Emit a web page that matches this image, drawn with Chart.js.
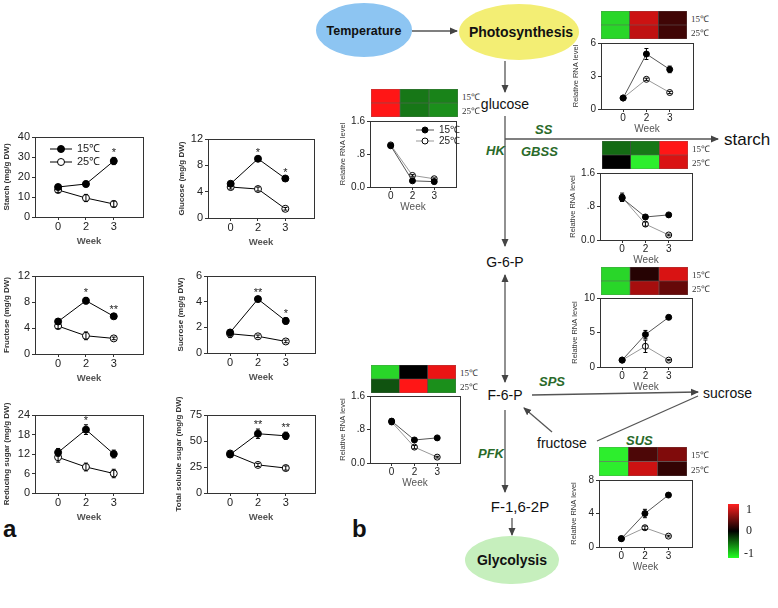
<!DOCTYPE html>
<html>
<head>
<meta charset="utf-8">
<title>Sugar content and gene expression</title>
<script src="https://cdn.jsdelivr.net/npm/chart.js@4.4.1/dist/chart.umd.min.js"></script>
<style>
  body { margin: 0; background: #fff; }
  #page { position: relative; width: 778px; height: 608px; overflow: hidden; font-family: "Liberation Sans", Arial, sans-serif; }
  #page canvas { position: absolute; }
  .hl { position: absolute; font-family: "Liberation Serif", serif; font-size: 9px; color: #333; white-space: nowrap; }
  .cb { position: absolute; font-family: "Liberation Serif", serif; font-size: 12px; color: #222; }
  .panel { position: absolute; font-weight: bold; font-size: 24px; color: #111; }
</style>
</head>
<body>
<div id="page">
  <svg width="778" height="608" style="position:absolute;left:0;top:0" font-family="Liberation Sans, Arial, sans-serif">
    <defs>
      <marker id="ah" markerWidth="8" markerHeight="8" refX="7" refY="4" orient="auto-start-reverse" markerUnits="userSpaceOnUse">
        <path d="M0,0.5 L8,4 L0,7.5 z" fill="#444"/>
      </marker>
    </defs>
    <ellipse cx="364" cy="30" rx="48" ry="27" fill="#8dc5f2"/>
    <text x="364" y="35" text-anchor="middle" font-weight="bold" font-size="12.5" fill="#111">Temperature</text>
    <ellipse cx="519" cy="32" rx="60" ry="28" fill="#f3ee74"/>
    <text x="521" y="37" text-anchor="middle" font-weight="bold" font-size="14" fill="#111">Photosynthesis</text>
    <g stroke="#555" stroke-width="1.3" fill="none">
      <line x1="412" y1="31" x2="457" y2="31" marker-end="url(#ah)"/>
      <line x1="505" y1="61" x2="505" y2="92" marker-end="url(#ah)"/>
      <line x1="505" y1="116" x2="505" y2="246" marker-end="url(#ah)"/>
      <line x1="505" y1="139" x2="718" y2="139" marker-end="url(#ah)"/>
      <line x1="505" y1="275" x2="505" y2="382" marker-start="url(#ah)" marker-end="url(#ah)"/>
      <line x1="532" y1="395" x2="698" y2="392" marker-end="url(#ah)"/>
      <line x1="597" y1="441" x2="698" y2="396"/>
      <line x1="552" y1="432" x2="524" y2="408" marker-end="url(#ah)"/>
      <line x1="505" y1="410" x2="505" y2="492" marker-end="url(#ah)"/>
      <line x1="512" y1="518" x2="512" y2="535" marker-end="url(#ah)"/>
    </g>
    <text x="505" y="109" text-anchor="middle" font-size="14" fill="#111">glucose</text>
    <text x="724" y="145" font-size="17" fill="#111">starch</text>
    <text x="505" y="267" text-anchor="middle" font-size="14" fill="#111">G-6-P</text>
    <text x="505" y="400" text-anchor="middle" font-size="14" fill="#111">F-6-P</text>
    <text x="703" y="398" font-size="14" fill="#111">sucrose</text>
    <text x="537" y="448" font-size="14" fill="#111">fructose</text>
    <text x="520" y="512" text-anchor="middle" font-size="15" fill="#111">F-1,6-2P</text>
    <ellipse cx="512" cy="560" rx="47" ry="24" fill="#c6efbd"/>
    <text x="512" y="565" text-anchor="middle" font-weight="bold" font-size="14" fill="#111">Glycolysis</text>
    <g font-style="italic" font-weight="bold" font-size="13" fill="#2a6a2a">
      <text x="535" y="134">SS</text>
      <text x="486" y="155">HK</text>
      <text x="521" y="156">GBSS</text>
      <text x="539" y="386">SPS</text>
      <text x="626" y="445">SUS</text>
      <text x="478" y="458">PFK</text>
    </g>
  </svg>
  <div class="panel" style="left:3px;top:515px">a</div>
  <div class="panel" style="left:352px;top:515px">b</div>
</div>
<script>
const page = document.getElementById('page');

// ---- panel a: sugar contents (mg/g DW) ----
const weeks = ['0', '2', '3'];
const starch15 = [15, 16.5, 28];      const starch15Err = [1.2, 1.4, 1.8];
const starch25 = [13.5, 9.5, 6.5];    const starch25Err = [1.2, 1.8, 1.5];
const starchStars = ['', '', '*'];
const glucose15 = [5.2, 9, 6];        const glucose15Err = [0.3, 0.3, 0.3];
const glucose25 = [4.7, 4.4, 1.4];    const glucose25Err = [0.3, 0.3, 0.2];
const glucoseStars = ['', '*', '*'];
const fructose15 = [5, 8.2, 5.8];     const fructose15Err = [0.4, 0.5, 0.3];
const fructose25 = [4.3, 2.8, 2.4];   const fructose25Err = [0.4, 0.6, 0.2];
const fructoseStars = ['', '*', '**'];
const sucrose15 = [1.6, 4.2, 2.5];    const sucrose15Err = [0.2, 0.2, 0.25];
const sucrose25 = [1.5, 1.3, 0.9];    const sucrose25Err = [0.3, 0.1, 0.1];
const sucroseStars = ['', '**', '*'];
const reducing15 = [12.5, 19.5, 12];  const reducing15Err = [1.2, 1.5, 1.2];
const reducing25 = [11, 8, 6];        const reducing25Err = [1.5, 1.2, 1.3];
const reducingStars = ['', '*', ''];
const total15 = [37, 57, 55];         const total15Err = [2.5, 4.5, 3.5];
const total25 = [38, 27, 24];         const total25Err = [2.5, 1.5, 2];
const totalStars = ['', '**', '**'];

// ---- panel b: relative RNA levels ----
const photo15 = [1, 5, 3.6];          const photo15Err = [0.1, 0.5, 0.3];
const photo25 = [1, 2.7, 1.5];        const photo25Err = [0.1, 0.1, 0.1];
const hk15 = [1.0, 0.15, 0.13];       const hk15Err = [0.03, 0.02, 0.02];
const hk25 = [1.02, 0.28, 0.2];       const hk25Err = [0.03, 0.02, 0.02];
const gbss15 = [1.0, 0.55, 0.6];      const gbss15Err = [0.08, 0.05, 0.03];
const gbss25 = [1.02, 0.38, 0.12];    const gbss25Err = [0.1, 0.05, 0.02];
const sps15 = [1, 4.7, 7.2];          const sps15Err = [0.1, 0.6, 0.2];
const sps25 = [1, 3, 1];              const sps25Err = [0.1, 0.9, 0.1];
const pfk15 = [1.0, 0.55, 0.6];       const pfk15Err = [0.06, 0.04, 0.03];
const pfk25 = [0.98, 0.38, 0.14];     const pfk25Err = [0.06, 0.04, 0.02];
const sus15 = [1, 4, 6.2];            const sus15Err = [0.1, 0.5, 0.15];
const sus25 = [1, 2.3, 1.3];          const sus25Err = [0.1, 0.2, 0.1];

// heatmap values (-1 .. 1), weeks 0, 2, 3
const photoHeat15 = [-0.9, 0.8, 0.25];  const photoHeat25 = [-0.9, 0.75, 0.25];
const hkHeat15 = [1, -0.5, -0.55];      const hkHeat25 = [1, -0.5, -0.6];
const gbssHeat15 = [-0.45, -0.5, 1];    const gbssHeat25 = [0, -1, 0.85];
const spsHeat15 = [-0.9, 0.15, 0.85];   const spsHeat25 = [-0.9, 0.65, 0.4];
const pfkHeat15 = [-0.9, 0, 0.92];      const pfkHeat25 = [-0.35, 1, -0.6];
const susHeat15 = [-1, 0.3, 0.5];       const susHeat25 = [-1, 0.8, 0.2];

const rnaTicks = [0, 0.8, 1.6];
const rnaTickLabels = ['0.0', '.8', '1.6'];

function addCanvas(id, left, top, w, h) {
  const c = document.createElement('canvas');
  c.id = id;
  c.width = w; c.height = h;
  c.style.left = left + 'px'; c.style.top = top + 'px';
  c.style.width = w + 'px'; c.style.height = h + 'px';
  page.appendChild(c);
  return c;
}

function addText(cls, text, left, top) {
  const d = document.createElement('div');
  d.className = cls;
  d.textContent = text;
  d.style.left = left + 'px'; d.style.top = top + 'px';
  page.appendChild(d);
}

// frame round the plot area
const framePlugin = {
  id: 'frame',
  beforeDatasetsDraw(chart) {
    const a = chart.chartArea, ctx = chart.ctx;
    ctx.save();
    ctx.strokeStyle = '#333';
    ctx.lineWidth = 1;
    ctx.strokeRect(Math.round(a.left) + 0.5, Math.round(a.top) + 0.5, Math.round(a.right - a.left), Math.round(a.bottom - a.top));
    ctx.restore();
  }
};

const errPlugin = {
  id: 'errbars',
  afterDatasetsDraw(chart) {
    const ctx = chart.ctx, xs = chart.scales.x, ys = chart.scales.y;
    ctx.save();
    ctx.strokeStyle = '#000';
    ctx.lineWidth = 1;
    chart.data.datasets.forEach(ds => {
      if (!ds.err) return;
      ds.data.forEach((p, i) => {
        const e = ds.err[i];
        if (!e) return;
        const x = xs.getPixelForValue(p.x);
        const y1 = ys.getPixelForValue(p.y - e), y2 = ys.getPixelForValue(p.y + e);
        ctx.beginPath();
        ctx.moveTo(x, y1); ctx.lineTo(x, y2);
        ctx.moveTo(x - 2, y1); ctx.lineTo(x + 2, y1);
        ctx.moveTo(x - 2, y2); ctx.lineTo(x + 2, y2);
        ctx.stroke();
      });
    });
    ctx.restore();
  }
};

const starPlugin = {
  id: 'stars',
  afterDatasetsDraw(chart, args, opts) {
    if (!opts.marks) return;
    const ctx = chart.ctx, xs = chart.scales.x, ys = chart.scales.y;
    ctx.save();
    ctx.fillStyle = '#222';
    ctx.font = '11px "Liberation Sans", Arial';
    ctx.textAlign = 'center';
    ctx.textBaseline = 'alphabetic';
    opts.marks.forEach((m, i) => {
      if (!m) return;
      let top = Infinity;
      chart.data.datasets.forEach(ds => {
        const p = ds.data[i];
        top = Math.min(top, ys.getPixelForValue(p.y + (ds.err ? ds.err[i] : 0)));
      });
      ctx.fillText(m, xs.getPixelForValue(i), top - 1);
    });
    ctx.restore();
  }
};

const legendPlugin = {
  id: 'inlegend',
  afterDatasetsDraw(chart, args, opts) {
    if (!opts.show) return;
    const ctx = chart.ctx, a = chart.chartArea;
    ctx.save();
    ctx.font = opts.font;
    ctx.textBaseline = 'middle';
    chart.data.datasets.forEach((ds, i) => {
      const x = a.left + opts.x, y = a.top + opts.y + i * opts.gap;
      ctx.strokeStyle = ds.borderColor;
      ctx.lineWidth = 1;
      ctx.beginPath(); ctx.moveTo(x, y); ctx.lineTo(x + opts.len, y); ctx.stroke();
      ctx.beginPath();
      ctx.arc(x + opts.len / 2, y, ds.pointRadius, 0, Math.PI * 2);
      ctx.fillStyle = ds.pointBackgroundColor; ctx.fill();
      ctx.strokeStyle = ds.pointBorderColor; ctx.stroke();
      ctx.fillStyle = '#222';
      ctx.fillText(ds.label, x + opts.len + 5, y);
    });
    ctx.restore();
  }
};

// s: settings for one small line chart; box = [x0, y0, x1, y1] of the framed plot area
function lineChart(id, box, s) {
  const padT = s.padT, padR = 6;
  const left = box[0] - s.leftW, top = box[1] - padT;
  const w = box[2] - box[0] + s.leftW + padR;
  const h = box[3] - box[1] + padT + s.bottomH;
  const cv = addCanvas(id, left, top, w, h);
  const pts = arr => arr.map((v, i) => ({ x: i, y: v }));
  return new Chart(cv, {
    type: 'line',
    data: {
      datasets: [
        { label: '15℃', data: pts(s.d15), err: s.e15, borderColor: s.line15, borderWidth: 1,
          pointRadius: s.r, pointBackgroundColor: '#000', pointBorderColor: '#000', pointBorderWidth: 1 },
        { label: '25℃', data: pts(s.d25), err: s.e25, borderColor: s.line25, borderWidth: 1,
          pointRadius: s.r, pointBackgroundColor: '#fff', pointBorderColor: '#000', pointBorderWidth: 1 }
      ]
    },
    options: {
      responsive: false,
      animation: false,
      devicePixelRatio: 1,
      layout: { padding: { top: padT, right: padR, left: 0, bottom: 0 } },
      plugins: {
        legend: { display: false },
        tooltip: { enabled: false },
        stars: { marks: s.stars },
        inlegend: s.legend || { show: false }
      },
      scales: {
        x: {
          type: 'linear', min: s.xmin, max: s.xmax,
          afterBuildTicks: sc => { sc.ticks = weeks.map((_, i) => ({ value: i })); },
          afterFit: sc => { sc.height = s.bottomH; },
          ticks: { callback: (v, i) => weeks[i], color: '#222', padding: 0, maxRotation: 0,
                   font: { size: s.tickSize, family: '"Liberation Sans", Arial' } },
          grid: { display: true, drawOnChartArea: false, drawTicks: true, tickLength: 3, color: '#333' },
          border: { display: true, color: '#333' },
          title: { display: true, text: 'Week', color: s.weekColor, padding: { top: 0, bottom: 2 },
                   font: { size: s.weekSize, weight: s.weekWeight, family: '"Liberation Sans", Arial' } }
        },
        y: {
          min: 0, max: s.yTicks[s.yTicks.length - 1],
          afterBuildTicks: sc => { sc.ticks = s.yTicks.map(v => ({ value: v })); },
          afterFit: sc => { sc.width = s.leftW; },
          ticks: { callback: (v, i) => s.yLabels[i], color: '#222', padding: 2,
                   font: { size: s.tickSize, family: '"Liberation Sans", Arial' } },
          grid: { display: true, drawOnChartArea: false, drawTicks: true, tickLength: 3, color: '#333' },
          border: { display: true, color: '#333' },
          title: { display: true, text: s.yTitle, color: '#333', padding: { top: 2, bottom: 2 },
                   font: { size: s.yTitleSize, weight: s.yTitleWeight, family: '"Liberation Sans", Arial' } }
        }
      }
    },
    plugins: [framePlugin, errPlugin, starPlugin, legendPlugin]
  });
}

function sugar(id, box, yTitle, d15, e15, d25, e25, stars, yTicks, leftW, legend) {
  return lineChart(id, box, {
    d15, e15, d25, e25, stars, yTicks, yLabels: yTicks.map(String), yTitle, leftW, legend,
    padT: 26, bottomH: 32, xmin: -0.83, xmax: 3.05, r: 3.5, tickSize: 11,
    line15: '#000', line25: '#000', weekColor: '#555', weekSize: 9.5, weekWeight: 'bold',
    yTitleSize: 8, yTitleWeight: 'bold'
  });
}

function rna(id, box, d15, e15, d25, e25, yTicks, yLabels, leftW, legend) {
  return lineChart(id, box, {
    d15, e15, d25, e25, stars: null, yTicks, yLabels, yTitle: 'Relative RNA level', leftW, legend,
    padT: 12, bottomH: 28, xmin: -0.95, xmax: 3.0, r: 3, tickSize: 10,
    line15: '#555', line25: '#999', weekColor: '#555', weekSize: 10, weekWeight: 'normal',
    yTitleSize: 7.5, yTitleWeight: 'normal'
  });
}

function heatColor(v) {
  const a = Math.abs(v);
  if (v >= 0) return `rgb(${Math.round(255 * a)},${Math.round(22 * a)},${Math.round(22 * a)})`;
  return `rgb(${Math.round(45 * a)},${Math.round(238 * a)},${Math.round(45 * a)})`;
}

function heatmap(id, box, row15, row25) {
  const cv = addCanvas(id, box[0], box[1], box[2] - box[0], box[3] - box[1]);
  new Chart(cv, {
    type: 'bar',
    data: {
      labels: weeks,
      datasets: [
        { data: row25.map(() => 1), backgroundColor: row25.map(heatColor), stack: 's' },
        { data: row15.map(() => 1), backgroundColor: row15.map(heatColor), stack: 's' }
      ]
    },
    options: {
      responsive: false, animation: false, devicePixelRatio: 1,
      layout: { padding: 0 },
      plugins: { legend: { display: false }, tooltip: { enabled: false } },
      datasets: { bar: { barPercentage: 1, categoryPercentage: 1, borderWidth: 0.6,
                         borderColor: 'rgba(40,40,40,0.7)', borderSkipped: false } },
      scales: { x: { display: false, stacked: true }, y: { display: false, stacked: true, min: 0, max: 2 } }
    }
  });
  const mid = (box[1] + box[3]) / 2;
  addText('hl', '15℃', box[2] + 4, box[1] + 1);
  addText('hl', '25℃', box[2] + 4, mid + 1);
}

// panel a
sugar('starch', [35, 137, 143, 217], 'Starch (mg/g DW)', starch15, starch15Err, starch25, starch25Err,
      starchStars, [0, 10, 20, 30, 40], 35,
      { show: true, x: 15, y: 12, gap: 13, len: 22, font: '11px "Liberation Sans", Arial' });
sugar('glucose', [208, 139, 314, 218], 'Glucose (mg/g DW)', glucose15, glucose15Err, glucose25, glucose25Err,
      glucoseStars, [0, 4, 8, 12], 33);
sugar('fructose', [35, 276, 143, 354], 'Fructose (mg/g DW)', fructose15, fructose15Err, fructose25, fructose25Err,
      fructoseStars, [0, 4, 8, 12], 35);
sugar('sucrose', [207, 276, 315, 353], 'Sucrose (mg/g DW)', sucrose15, sucrose15Err, sucrose25, sucrose25Err,
      sucroseStars, [0, 2, 4, 6], 33);
sugar('reducing', [35, 415, 143, 493], 'Reducing sugar (mg/g DW)', reducing15, reducing15Err, reducing25, reducing25Err,
      reducingStars, [0, 6, 12, 18, 24], 35);
sugar('total', [207, 415, 315, 493], 'Total soluble sugar (mg/g DW)', total15, total15Err, total25, total25Err,
      totalStars, [0, 25, 50, 75], 35);

// panel b
heatmap('photoHeat', [601, 11, 687, 39], photoHeat15, photoHeat25);
rna('photo', [601, 43, 693, 109], photo15, photo15Err, photo25, photo25Err, [0, 3, 6], ['0', '3', '6'], 32);
heatmap('hkHeat', [371, 89, 458, 117], hkHeat15, hkHeat25);
rna('hk', [370, 121, 456, 187], hk15, hk15Err, hk25, hk25Err, rnaTicks, rnaTickLabels, 34,
    { show: true, x: 46, y: 9, gap: 11, len: 18, font: '10px "Liberation Sans", Arial' });
heatmap('gbssHeat', [602, 141, 688, 169], gbssHeat15, gbssHeat25);
rna('gbss', [600, 173, 692, 240], gbss15, gbss15Err, gbss25, gbss25Err, rnaTicks, rnaTickLabels, 34);
heatmap('spsHeat', [601, 267, 688, 295], spsHeat15, spsHeat25);
rna('sps', [600, 298, 692, 367], sps15, sps15Err, sps25, sps25Err, [0, 5, 10], ['0', '5', '10'], 32);
heatmap('pfkHeat', [371, 365, 456, 393], pfkHeat15, pfkHeat25);
rna('pfk', [370, 396, 460, 463], pfk15, pfk15Err, pfk25, pfk25Err, rnaTicks, rnaTickLabels, 34);
heatmap('susHeat', [599, 447, 687, 476], susHeat15, susHeat25);
rna('sus', [599, 480, 692, 547], sus15, sus15Err, sus25, sus25Err, [0, 4, 8], ['0', '4', '8'], 32);

// colour key
const key = document.createElement('div');
key.style.cssText = 'position:absolute;left:728px;top:504px;width:11px;height:54px;' +
  'background:linear-gradient(to bottom,#ff2020,#000 50%,#22ff22);';
page.appendChild(key);
addText('cb', '1', 746, 502);
addText('cb', '0', 746, 523);
addText('cb', '-1', 744, 546);
</script>
</body>
</html>
